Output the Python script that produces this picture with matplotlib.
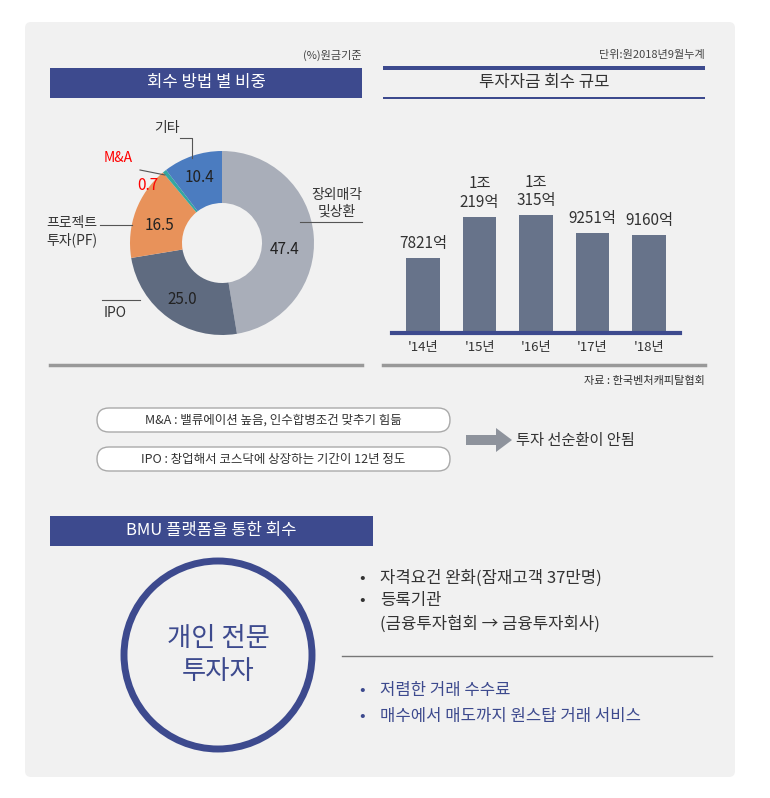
import matplotlib
matplotlib.use("Agg")
import matplotlib.pyplot as plt
from matplotlib import font_manager as fm
from matplotlib.patches import Rectangle, FancyBboxPatch, Circle, FancyArrow

cands = [f for f in fm.findSystemFonts() if "CJK" in f or "Noto" in f and "KR" in f]
fam = None
for f in sorted(cands):
    try:
        fm.fontManager.addfont(f)
    except Exception:
        pass
names = sorted({fe.name for fe in fm.fontManager.ttflist if "CJK" in fe.name})
for pref in ["Noto Sans CJK KR", "Noto Sans CJK JP", "Noto Sans CJK SC"]:
    if pref in names:
        fam = pref; break
if fam is None and names:
    fam = names[0]
plt.rcParams['font.family'] = [fam, 'DejaVu Sans'] if fam else ['DejaVu Sans']

pie_labels = ["장외매각\n및상환", "IPO", "프로젝트\n투자(PF)", "M&A", "기타"]
pie_values = [47.4, 25.0, 16.5, 0.7, 10.4]
pie_colors = ["#a9aeb9", "#5f6b80", "#e8925a", "#35a7a0", "#4b7cc0"]

years = ["'14년", "'15년", "'16년", "'17년", "'18년"]
amounts = [7821, 10219, 10315, 9251, 9160]
amount_labels = ["7821억", "1조\n219억", "1조\n315억", "9251억", "9160억"]

W, H = 770, 798
fig = plt.figure(figsize=(W/100, H/100), dpi=100)
ax = fig.add_axes([0, 0, 1, 1])
ax.set_xlim(0, W); ax.set_ylim(H, 0); ax.axis('off')

NAVY = "#3d4a8e"
ax.add_patch(FancyBboxPatch((25, 22), 710, 755, boxstyle="round,pad=0,rounding_size=6",
                            fc="#f1f1f1", ec="none"))

# donut
cx, cy, R = 222, 243, 92
pax = fig.add_axes([(cx-R)/W, 1-(cy+R)/H, 2*R/W, 2*R/H])
pax.pie(pie_values, colors=pie_colors, startangle=90, counterclock=False,
        wedgeprops=dict(width=52/92, edgecolor="none"), radius=1)
pax.set_xlim(-1, 1); pax.set_ylim(-1, 1)
pax.set_aspect('equal')

# bars
base = 332; scale = 0.01724; v0 = 3529
bx0, bx1 = 392, 680
bh = 150
bax = fig.add_axes([bx0/W, 1-base/H, (bx1-bx0)/W, bh/H])
bax.bar(range(5), amounts, width=0.6, color="#67738a", bottom=0)
bax.set_ylim(v0, v0 + bh/scale)
bax.set_xlim(-0.55, 4.55)
bax.axis('off')
bax.patch.set_alpha(0)

# overlay for text/lines
tx = fig.add_axes([0, 0, 1, 1])
tx.set_xlim(0, W); tx.set_ylim(H, 0); tx.axis('off'); tx.patch.set_alpha(0)

tx.add_patch(Rectangle((50, 68), 312, 30, fc=NAVY, ec="none"))
tx.text(206, 83, "회수 방법 별 비중", color="white", fontsize=12, ha="center", va="center")
tx.add_patch(Rectangle((383, 66), 322, 4, fc=NAVY, ec="none"))
tx.add_patch(Rectangle((383, 97), 322, 2, fc=NAVY, ec="none"))
tx.text(544, 83, "투자자금 회수 규모", color="#333", fontsize=12, ha="center", va="center")
tx.text(362, 55, "(%)원금기준", fontsize=8, ha="right", va="center", color="#444")
tx.text(705, 55, "단위:원2018년9월누계", fontsize=8, ha="right", va="center", color="#444")
tx.plot([50, 362], [365, 365], color="#999", lw=2.5)
tx.plot([383, 705], [365, 365], color="#999", lw=2.5)
tx.text(705, 381, "자료 : 한국벤처캐피탈협회", fontsize=8, ha="right", va="center", color="#333")

vals_pos = [(285, 250), (182, 300), (160, 225), (148, 186), (200, 177)]
for (x, y), v, i in zip(vals_pos, pie_values, range(5)):
    tx.text(x, y, f"{v:.1f}", fontsize=11, ha="center", va="center",
            color="red" if i == 3 else "#222")
tx.text(167, 128, pie_labels[4], fontsize=10, ha="center", va="center", color="#333")
tx.plot([180, 192, 192], [138, 138, 158], color="#555", lw=0.8)
tx.text(118, 158, pie_labels[3], fontsize=10, ha="center", va="center", color="red")
tx.plot([140, 165], [170, 175], color="#555", lw=0.8)
tx.text(72, 232, pie_labels[2], fontsize=10, ha="center", va="center", color="#333", linespacing=1.2)
tx.plot([100, 132], [225, 225], color="#555", lw=0.8)
tx.text(115, 313, pie_labels[1], fontsize=10, ha="center", va="center", color="#333")
tx.plot([102, 140], [300, 300], color="#555", lw=0.8)
tx.text(337, 203, pie_labels[0], fontsize=10, ha="center", va="center", color="#333", linespacing=1.2)
tx.plot([300, 362], [222, 222], color="#555", lw=0.8)

tx.plot([bx0, bx1], [base+1, base+1], color=NAVY, lw=3)
for i, (v, lab, yr) in enumerate(zip(amounts, amount_labels, years)):
    xp = bx0 + (i + 0.55) / 5.1 * (bx1 - bx0)
    top = base - (v - v0) * scale
    tx.text(xp, top - 6, lab, fontsize=11, ha="center", va="bottom", color="#333", linespacing=1.1)
    tx.text(xp, 347, yr, fontsize=9.5, ha="center", va="center", color="#333")

for y, t in [(420, "M&A : 밸류에이션 높음, 인수합병조건 맞추기 힘듦"),
             (459, "IPO : 창업해서 코스닥에 상장하는 기간이 12년 정도")]:
    tx.add_patch(FancyBboxPatch((97, y-12), 353, 24, boxstyle="round,pad=0,rounding_size=12",
                                fc="white", ec="#aaa", lw=1))
    tx.text(273, y, t, fontsize=9, ha="center", va="center", color="#333")
tx.add_patch(FancyArrow(466, 440, 30, 0, width=10, head_width=24, head_length=16,
                        fc="#8e939c", ec="none"))
tx.text(575, 440, "투자 선순환이 안됨", fontsize=11, ha="center", va="center", color="#333")

tx.add_patch(Rectangle((50, 516), 323, 30, fc=NAVY, ec="none"))
tx.text(211, 531, "BMU 플랫폼을 통한 회수", color="white", fontsize=12, ha="center", va="center")
tx.add_patch(Circle((218, 655), 94, fc="none", ec=NAVY, lw=5))
tx.text(218, 655, "개인 전문\n투자자", fontsize=19, ha="center", va="center", color=NAVY, linespacing=1.3)
tx.plot([342, 712], [656, 656], color="#777", lw=1)
for y, t, c, b in [(578, "자격요건 완화(잠재고객 37만명)", "#333", True),
                   (601, "등록기관", "#333", True),
                   (624, "(금융투자협회 → 금융투자회사)", "#333", False),
                   (691, "저렴한 거래 수수료", NAVY, True),
                   (717, "매수에서 매도까지 원스탑 거래 서비스", NAVY, True)]:
    if b:
        tx.text(362, y, "•", fontsize=12, ha="center", va="center", color=c)
    tx.text(380, y, t, fontsize=12, ha="left", va="center", color=c)

fig.savefig("out.png", dpi=100)
